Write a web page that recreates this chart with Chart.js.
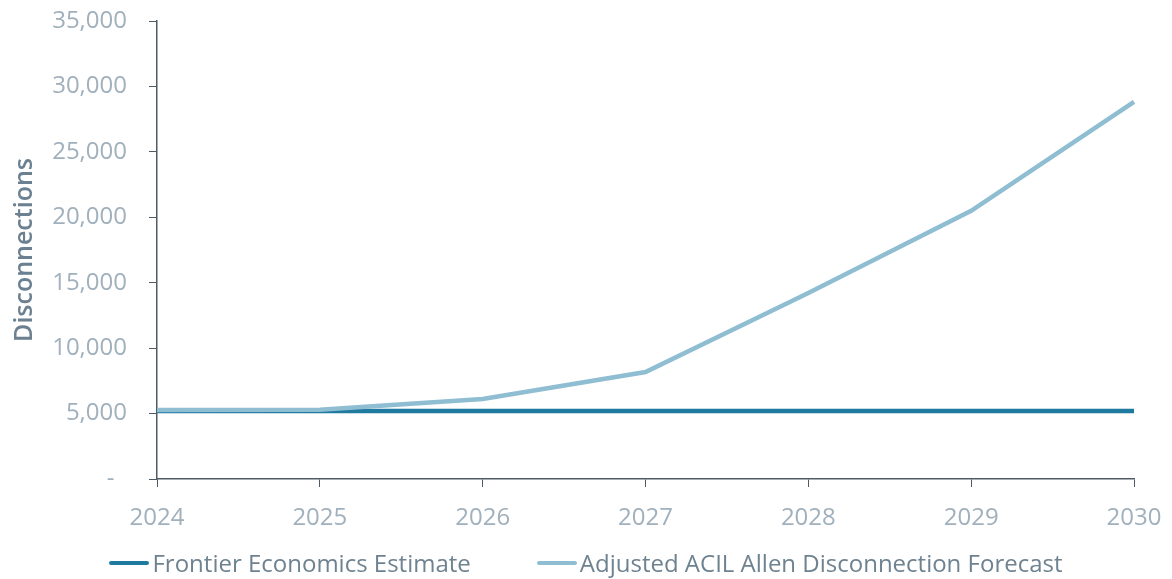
<!DOCTYPE html>
<html>
<head>
<meta charset="utf-8">
<script src="https://cdn.jsdelivr.net/npm/chart.js@4/dist/chart.umd.min.js"></script>
<style>
  html, body { margin: 0; padding: 0; background: #fff; }
  #wrap { position: relative; width: 1172px; height: 579px; }
  #legend {
    position: absolute; left: 0; right: 0; top: 548px; height: 30px;
    display: flex; justify-content: center; gap: 66px;
    font-family: 'Open Sans', sans-serif; font-size: 24px; line-height: 30px; color: #6e8290;
  }
  #legend .item { display: flex; align-items: center; gap: 3px; white-space: nowrap; }
  #legend .swatch { width: 40px; height: 4.5px; border-radius: 3px; }
</style>
</head>
<body>
<div id="wrap">
  <canvas id="myChart"></canvas>
  <div id="legend"></div>
</div>
<script>
const years = ['2024', '2025', '2026', '2027', '2028', '2029', '2030'];
const frontier = [5200, 5200, 5200, 5200, 5200, 5200, 5200];
const acilAdjusted = [5270, 5300, 6120, 8180, 14220, 20490, 28820];
const yTicks = [0, 5000, 10000, 15000, 20000, 25000, 30000, 35000];

const axisColor = '#4f5a64';
const tickColor = '#a0b0bc';

Chart.defaults.font.family = "'Open Sans', sans-serif";

const ctx = document.getElementById('myChart').getContext('2d');
const myChart = new Chart(ctx, {
    type: 'line',
    data: {
        labels: years,
        datasets: [{
            label: 'Frontier Economics Estimate',
            data: frontier,
            borderColor: '#1f7aa0',
            backgroundColor: '#1f7aa0',
            borderWidth: 4.5,
            pointRadius: 0,
            tension: 0,
            order: 2
        }, {
            label: 'Adjusted ACIL Allen Disconnection Forecast',
            data: acilAdjusted,
            borderColor: '#8fbdd1',
            backgroundColor: '#8fbdd1',
            borderWidth: 4.5,
            pointRadius: 0,
            tension: 0,
            order: 1
        }]
    },
    options: {
        responsive: true,
        maintainAspectRatio: false,
        animation: false,
        layout: {
            padding: { top: 21, right: 38, left: 10, bottom: 0 }
        },
        plugins: {
            legend: { display: false },
            tooltip: { enabled: false }
        },
        scales: {
            x: {
                offset: false,
                afterFit: scale => {
                    scale.paddingLeft = 0;
                    scale.paddingRight = 0;
                    scale.height = 100;
                },
                grid: {
                    drawOnChartArea: false,
                    drawTicks: true,
                    tickLength: 8,
                    color: axisColor
                },
                border: { color: axisColor, width: 1.5 },
                ticks: {
                    color: tickColor,
                    padding: 17,
                    maxRotation: 0,
                    font: { size: 24 }
                }
            },
            y: {
                min: 0,
                max: 35000,
                afterBuildTicks: scale => {
                    scale.ticks = yTicks.map(v => ({ value: v }));
                },
                afterFit: scale => {
                    scale.paddingTop = 0;
                    scale.paddingBottom = 0;
                    scale.width = 147;
                },
                grid: {
                    drawOnChartArea: false,
                    drawTicks: true,
                    tickLength: 8,
                    color: axisColor
                },
                border: { color: axisColor, width: 1.5 },
                ticks: {
                    color: tickColor,
                    padding: 22,
                    font: { size: 24 },
                    // accounting style: zero shown as a dash
                    callback: v => v === 0 ? '-  ' : v.toLocaleString('en-US')
                },
                title: {
                    display: true,
                    text: 'Disconnections',
                    color: '#6b8090',
                    font: { size: 25, weight: '600' },
                    padding: { top: 0, bottom: 4 }
                }
            }
        }
    }
});

// legend built from the datasets, in dataset order
const legendEl = document.getElementById('legend');
myChart.data.datasets.forEach(ds => {
    const item = document.createElement('div');
    item.className = 'item';
    const swatch = document.createElement('span');
    swatch.className = 'swatch';
    swatch.style.background = ds.borderColor;
    const text = document.createElement('span');
    text.textContent = ds.label;
    item.appendChild(swatch);
    item.appendChild(text);
    legendEl.appendChild(item);
});
</script>
</body>
</html>
